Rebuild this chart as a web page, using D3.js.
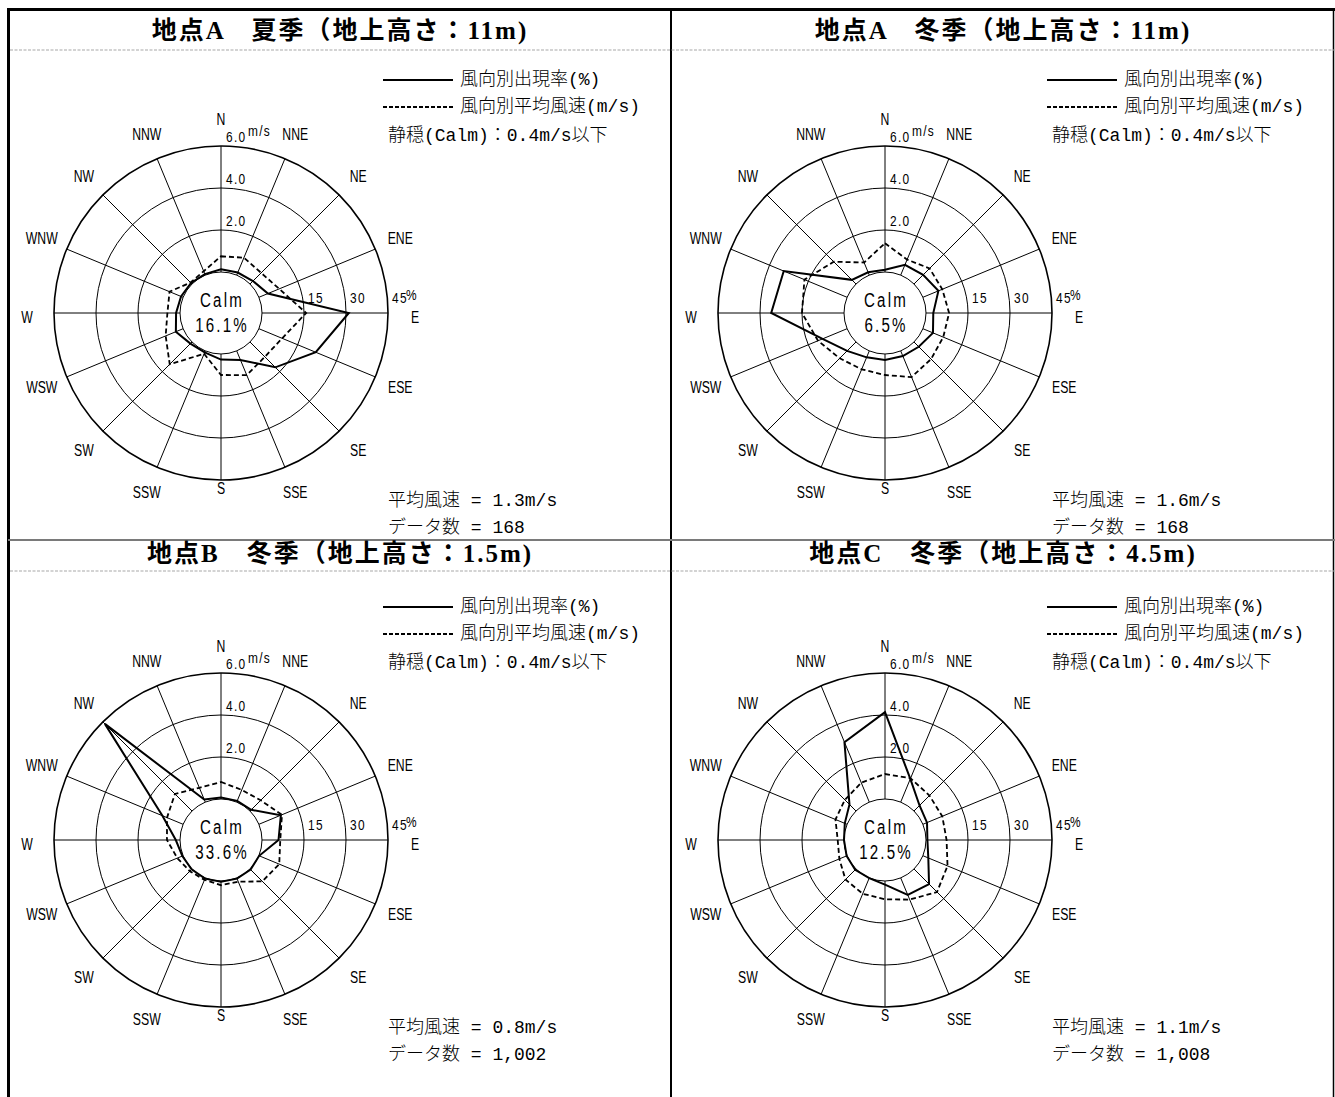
<!DOCTYPE html>
<html>
<head>
<meta charset="utf-8">
<script src="https://cdn.jsdelivr.net/npm/d3@7"></script>
<style>
  html, body { margin: 0; padding: 0; background: #fff; }
  svg { display: block; }
  .title { font-family: "Liberation Serif", "Noto Sans CJK JP", serif; font-weight: 700; font-size: 25px; letter-spacing: 2px; }
  .jp { font-family: "Liberation Mono", "Noto Sans CJK JP", monospace; font-size: 18px; font-weight: 300; fill: #000; }
  .dir { font-family: "Liberation Sans", sans-serif; font-size: 17px; }
  .tick { font-family: "Liberation Sans", sans-serif; font-size: 14px; letter-spacing: 1.5px; }
  .calm { font-family: "Liberation Sans", sans-serif; font-size: 21px; letter-spacing: 3px; }
</style>
</head>
<body>
<svg id="chart" width="1335" height="1097"></svg>
<script>
// 16 compass directions, clockwise from north
const directions = ["N","NNE","NE","ENE","E","ESE","SE","SSE","S","SSW","SW","WSW","W","WNW","NW","NNW"];

// ring tick labels
const speedTicks = [2, 4, 6];          // m/s
const freqTicks = [15, 30, 45];        // %

const panelTitles = [
  "地点A　夏季（地上高さ：11m)",
  "地点A　冬季（地上高さ：11m)",
  "地点B　冬季（地上高さ：1.5m)",
  "地点C　冬季（地上高さ：4.5m)"
];
const calmPercent = [16.1, 6.5, 33.6, 12.5];
const meanSpeed = ["1.3", "1.6", "0.8", "1.1"];
const dataCount = ["168", "168", "1,002", "1,008"];

// frequency of occurrence by direction (%)
const freqA_summer = [1.0, 1.0, 1.5, 3.5, 31.0, 22.0, 12.8, 3.5, 2.0, 0.6, 0.8, 2.8, 1.4, 0.8, 0.5, 0.4];
const freqA_winter = [0.8, 4.0, 4.6, 6.0, 2.6, 3.9, 2.4, 2.0, 2.1, 2.5, 4.5, 9.5, 26.0, 24.5, 2.1, 1.1];
const freqB_winter = [0.5, 0.5, 0.6, 8.5, 5.9, 0.1, 0.3, 0.3, 0.3, 0.3, 0.2, 0.3, 1.5, 8.0, 44.0, 1.0];
const freqC_winter = [31.0, 9.0, 2.8, 1.6, 0.5, 2.1, 7.6, 6.6, 1.3, 0.1, 0.4, 0.2, 0.0, 0.9, 3.3, 23.2];

// mean wind speed by direction (m/s)
const speedA_summer = [0.75, 0.9, 0.75, 1.05, 2.1, 1.2, 1.0, 1.25, 1.0, 0.15, 1.5, 0.9, 0.6, 0.7, 0.1, 0.2];
const speedA_winter = [1.37, 0.8, 1.05, 1.0, 1.1, 1.05, 1.15, 1.35, 1.0, 0.95, 1.1, 1.5, 2.0, 2.2, 1.5, 0.65];
const speedB_winter = [0.81, 0.63, 0.72, 1.19, 0.87, 1.05, 0.83, 0.2, 0.2, 0.1, 0.15, 0.3, 0.62, 0.83, 1.15, 0.74];
const speedC_winter = [1.19, 1.23, 1.04, 1.0, 0.98, 1.27, 1.55, 1.12, 0.87, 0.82, 0.71, 0.4, 0.3, 0.6, 0.75, 1.0];

const freqSeries = [freqA_summer, freqA_winter, freqB_winter, freqC_winter];
const speedSeries = [speedA_summer, speedA_winter, speedB_winter, speedC_winter];

// ---- layout ----
const svg = d3.select("#chart");
const W = 1335, H = 1097;
const colX = [8, 671];
const rowTop = [9, 540];
const colW = 664, rowH = 527;
const calmR = 41, outerR = 167;

const angle = d3.scaleLinear().domain([0, directions.length]).range([0, 2 * Math.PI]);
const rFreq = d3.scaleLinear().domain([0, 45]).range([calmR, outerR]);
const rSpeed = d3.scaleLinear().domain([0, 6]).range([calmR, outerR]);

// condensed text: horizontally squeezed around its anchor point
function narrow(parent, x, y, str, cls, sx, anchor) {
  const t = parent.append("g").attr("transform", `translate(${x},${y}) scale(${sx},1)`)
    .append("text").attr("class", cls).attr("text-anchor", anchor || "middle")
    .attr("dominant-baseline", "central").text(str);
  return t;
}

// frame
const frame = svg.append("g");
frame.append("line").attr("x1", 7).attr("x2", W).attr("y1", 9.5).attr("y2", 9.5).attr("stroke", "#000").attr("stroke-width", 3);
frame.append("line").attr("x1", 8.5).attr("x2", 8.5).attr("y1", 8).attr("y2", H).attr("stroke", "#000").attr("stroke-width", 3);
frame.append("line").attr("x1", 671).attr("x2", 671).attr("y1", 8).attr("y2", H).attr("stroke", "#000").attr("stroke-width", 2);
frame.append("line").attr("x1", 1333.5).attr("x2", 1333.5).attr("y1", 8).attr("y2", H).attr("stroke", "#000").attr("stroke-width", 1.5);
frame.append("line").attr("x1", 8).attr("x2", W).attr("y1", rowTop[1]).attr("y2", rowTop[1]).attr("stroke", "#7a7a7a").attr("stroke-width", 2);

const headerLineY = [50, 571];
const titleY = [30, 553];
headerLineY.forEach(y => {
  frame.append("line").attr("x1", 10).attr("x2", W).attr("y1", y).attr("y2", y)
    .attr("stroke", "#a8a8a8").attr("stroke-width", 1.2).attr("stroke-dasharray", "3,1.5");
});

function panel(i) {
  const col = i % 2, row = Math.floor(i / 2);
  const cx = 221 + col * colW, cy = 313 + row * rowH;
  const g = svg.append("g");

  // header title
  g.append("text").attr("class", "title")
    .attr("x", colX[col] + 332).attr("y", titleY[row])
    .attr("text-anchor", "middle").attr("dominant-baseline", "central")
    .text(panelTitles[i]);

  const c = g.append("g").attr("transform", `translate(${cx},${cy})`);

  // rings
  [calmR, ...speedTicks.map(rSpeed)].forEach((r, k) => {
    c.append("circle").attr("r", r).attr("fill", "none").attr("stroke", "#000")
      .attr("stroke-width", k === 3 ? 1.6 : 1);
  });

  // spokes
  directions.forEach((d, k) => {
    const a = angle(k);
    c.append("line")
      .attr("x1", calmR * Math.sin(a)).attr("y1", -calmR * Math.cos(a))
      .attr("x2", outerR * Math.sin(a)).attr("y2", -outerR * Math.cos(a))
      .attr("stroke", "#000").attr("stroke-width", 1);
  });

  // direction labels
  directions.forEach((d, k) => {
    const a = angle(k);
    let r = 194, dy = 0;
    if (d === "S") r = 175;
    if (d === "E" || d === "W") dy = 4;
    narrow(c, r * Math.sin(a), -r * Math.cos(a) + dy, d, "dir", 0.72);
  });

  // speed ring labels along north spoke
  speedTicks.forEach(s => {
    narrow(c, 5, -rSpeed(s) - 9, s.toFixed(1), "tick", 0.85, "start");
    if (s === 6) {
      narrow(c, 27, -rSpeed(s) - 15, "m/s", "tick", 0.85, "start").attr("font-size", 12).attr("letter-spacing", 0.5);
    }
  });

  // frequency ring labels along east spoke
  freqTicks.forEach(f => {
    narrow(c, rFreq(f) + 4, -15, f, "tick", 0.85, "start");
    if (f === 45) {
      narrow(c, rFreq(f) + 18, -18, "%", "tick", 0.85, "start").attr("font-size", 9).attr("letter-spacing", 0);
    }
  });

  // calm
  narrow(c, 1, -13, "Calm", "calm", 0.72);
  narrow(c, 1, 12, calmPercent[i].toFixed(1) + "%", "calm", 0.72);

  // data polygons
  const freqLine = d3.lineRadial().angle((d, k) => angle(k)).radius(d => rFreq(d)).curve(d3.curveLinearClosed);
  const speedLine = d3.lineRadial().angle((d, k) => angle(k)).radius(d => rSpeed(d)).curve(d3.curveLinearClosed);
  c.append("path").attr("d", speedLine(speedSeries[i])).attr("fill", "none")
    .attr("stroke", "#000").attr("stroke-width", 1.8).attr("stroke-dasharray", "5,3");
  c.append("path").attr("d", freqLine(freqSeries[i])).attr("fill", "none")
    .attr("stroke", "#000").attr("stroke-width", 2).attr("stroke-linejoin", "miter");

  // legend
  const lx = cx + 162;
  const legY = [cy - 233, cy - 206];
  g.append("line").attr("x1", lx).attr("x2", lx + 70).attr("y1", legY[0]).attr("y2", legY[0])
    .attr("stroke", "#000").attr("stroke-width", 2);
  g.append("line").attr("x1", lx).attr("x2", lx + 70).attr("y1", legY[1]).attr("y2", legY[1])
    .attr("stroke", "#000").attr("stroke-width", 2).attr("stroke-dasharray", "4,2");
  g.append("text").attr("class", "jp").attr("x", lx + 77).attr("y", legY[0]).attr("dominant-baseline", "central").text("風向別出現率(%)");
  g.append("text").attr("class", "jp").attr("x", lx + 77).attr("y", legY[1]).attr("dominant-baseline", "central").text("風向別平均風速(m/s)");
  g.append("text").attr("class", "jp").attr("x", cx + 167).attr("y", cy - 177).attr("dominant-baseline", "central").text("静穏(Calm)：0.4m/s以下");

  // summary
  g.append("text").attr("class", "jp").attr("x", cx + 167).attr("y", cy + 188).attr("dominant-baseline", "central").text("平均風速 = " + meanSpeed[i] + "m/s");
  g.append("text").attr("class", "jp").attr("x", cx + 167).attr("y", cy + 215).attr("dominant-baseline", "central").text("データ数 = " + dataCount[i]);
}

[0, 1, 2, 3].forEach(panel);
</script>
</body>
</html>
